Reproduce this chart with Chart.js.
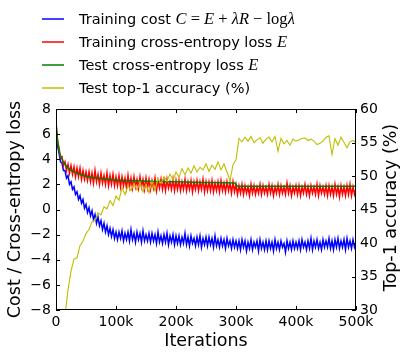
<!DOCTYPE html>
<html lang="en">
<head>
<meta charset="UTF-8">
<title>Training curves</title>
<script src="https://cdn.jsdelivr.net/npm/chart.js"></script>
<style>
  html, body { margin: 0; padding: 0; background: #fff; }
  .chart-wrap { position: relative; width: 407px; height: 358px; }
  .legend { position: absolute; left: 0; top: 0; width: 407px; font-family: "DejaVu Sans", sans-serif; font-size: 14.5px; color: #000; }
  .legend-row { position: absolute; left: 42px; height: 20px; white-space: nowrap; display: flex; align-items: center; }
  .legend-line { display: block; width: 22px; height: 2px; margin-right: 15px; opacity: 0.75; }
  .m { font-family: "Liberation Serif", serif; font-size: 16.5px; }
  .m i { font-style: italic; }
</style>
</head>
<body>
<div class="chart-wrap">
  <canvas id="lossChart" width="407" height="358"></canvas>
  <div class="legend">
    <div class="legend-row" style="top:9px"><span class="legend-line" style="background:#0000ff"></span>Training cost&nbsp;<span class="m"><i>C</i> = <i>E</i> + <i>λR</i> − log<i>λ</i></span></div>
    <div class="legend-row" style="top:32px"><span class="legend-line" style="background:#ff0000"></span>Training cross-entropy loss&nbsp;<span class="m"><i>E</i></span></div>
    <div class="legend-row" style="top:55px"><span class="legend-line" style="background:#008000"></span>Test cross-entropy loss&nbsp;<span class="m"><i>E</i></span></div>
    <div class="legend-row" style="top:78px"><span class="legend-line" style="background:#bfbf00"></span>Test top-1 accuracy (%)</div>
  </div>
</div>
<script>
// training curves logged every 2.5k iterations, test accuracy every 5k
const trainIters = Array.from({length: 201}, (_, i) => i * 2500);
const accIters = Array.from({length: 101}, (_, i) => i * 5000);

const trainCost = [
  6.5, 5.1, 4.5, 3.8, 3.7, 3.1, 3.1, 2.5, 2.7, 2.0, 2.2, 1.6, 1.8, 1.2, 1.4, 0.8, 1.1, 0.5, 0.8, 0.1, 0.4,
  -0.25, 0.15, -0.5, -0.1, -0.8, -0.4, -1.1, -0.6, -1.3, -0.9, -1.6, -1.1, -1.8, -1.3, -2.0, -1.5, -2.15, -1.6, -2.3, -1.8,
  -2.4, -1.8, -2.3, -1.7, -2.5, -1.9, -2.4, -1.8, -2.5, -1.6, -2.4, -1.9, -2.6, -1.8, -2.4, -1.9, -2.6, -1.7, -2.5, -2.0,
  -2.5, -1.9, -2.6, -1.9, -2.5, -2.0, -2.7, -1.8, -2.6, -2.1, -2.7, -2.0, -2.6, -1.9, -2.8, -2.1, -2.6, -2.0, -2.8, -2.1,
  -2.7, -2.1, -2.8, -2.2, -2.7, -1.9, -2.8, -2.2, -2.9, -2.1, -2.7, -2.3, -2.9, -2.2, -2.8, -2.1, -3.0, -2.3, -2.8, -2.2,
  -2.9, -2.2, -2.8, -2.3, -3.0, -2.1, -2.9, -2.4, -3.0, -2.3, -2.9, -2.4, -3.1, -2.3, -2.9, -2.5, -3.1, -2.4, -3.0, -2.5,
  -3.1, -2.5, -3.2, -2.4, -3.0, -2.5, -3.3, -2.6, -3.1, -2.4, -3.2, -2.6, -3.0, -2.5, -3.3, -2.4, -3.1, -2.6, -3.2, -2.5,
  -3.2, -2.5, -3.1, -2.6, -3.3, -2.4, -3.1, -2.6, -3.2, -2.5, -3.0, -2.7, -3.4, -2.5, -3.1, -2.6, -3.2, -2.5, -3.1, -2.6,
  -3.1, -2.5, -3.2, -2.4, -3.0, -2.6, -3.2, -2.5, -3.1, -2.3, -3.2, -2.5, -3.0, -2.4, -3.1, -2.6, -3.2, -2.4, -3.0, -2.5,
  -3.0, -2.3, -3.1, -2.5, -3.2, -2.4, -3.0, -2.3, -3.1, -2.5, -3.0, -2.4, -3.2, -2.3, -3.0, -2.5, -3.1, -2.4, -3.0, -2.6
];

const trainCE = [
  6.8, 5.5, 4.9, 4.1, 4.2, 3.5, 3.8, 3.1, 3.6, 2.9, 3.5, 2.8, 3.4, 2.6, 3.3, 2.6, 3.3, 2.4, 3.1, 2.4, 3.0,
  2.3, 3.0, 2.2, 2.9, 2.1, 3.1, 2.2, 2.8, 2.0, 2.9, 2.1, 2.7, 2.0, 2.9, 1.9, 2.7, 2.0, 2.8, 1.9, 2.6,
  1.9, 2.7, 1.8, 2.6, 1.9, 2.5, 1.7, 2.7, 1.8, 2.5, 1.7, 2.6, 1.8, 2.4, 1.7, 2.6, 1.8, 2.4, 1.6, 2.5,
  1.7, 2.4, 1.6, 2.3, 1.7, 2.5, 1.5, 2.3, 1.7, 2.4, 1.6, 2.3, 1.5, 2.4, 1.7, 2.2, 1.6, 2.4, 1.5, 2.3,
  1.6, 2.3, 1.5, 2.2, 1.6, 2.4, 1.5, 2.2, 1.6, 2.3, 1.4, 2.2, 1.6, 2.3, 1.5, 2.2, 1.6, 2.4, 1.4, 2.2,
  1.5, 2.2, 1.5, 2.3, 1.4, 2.1, 1.5, 2.2, 1.4, 2.3, 1.5, 2.1, 1.4, 2.2, 1.5, 2.1, 1.3, 2.2, 1.4, 2.0,
  1.2, 1.9, 1.3, 2.0, 1.2, 1.9, 1.3, 1.8, 1.1, 2.0, 1.3, 1.9, 1.2, 1.8, 1.3, 2.0, 1.2, 1.9, 1.3, 1.8,
  1.2, 2.0, 1.3, 1.9, 1.1, 1.8, 1.3, 2.0, 1.2, 1.9, 1.3, 1.8, 1.2, 2.1, 1.3, 1.9, 1.1, 1.8, 1.3, 1.9,
  1.2, 1.9, 1.1, 1.8, 1.3, 2.0, 1.2, 1.8, 1.1, 1.9, 1.3, 1.8, 1.2, 2.0, 1.1, 1.9, 1.3, 1.8, 1.2, 1.9,
  1.1, 1.9, 1.2, 1.8, 1.1, 2.0, 1.2, 1.8, 1.0, 1.9, 1.2, 1.8, 1.1, 1.9, 1.2, 2.0, 1.1, 1.8, 1.2, 1.7
];

const testIters = [0, 2000, 5000, 10000, 15000, 20000, 30000, 40000, 50000, 60000, 80000, 100000, 125000, 150000, 200000, 250000, 298000, 303000, 350000, 400000, 450000, 500000];
const testCE = [7.0, 5.8, 4.7, 4.0, 3.6, 3.3, 3.0, 2.8, 2.65, 2.55, 2.45, 2.35, 2.3, 2.25, 2.2, 2.15, 2.1, 1.85, 1.85, 1.85, 1.85, 1.85];

const testAcc = [
  15, 20, 24, 29.2, 33.0, 35.8, 37.6, 37.8, 39.6, 40.3, 41.4, 42.0, 43.2, 43.4, 44.5, 44.2, 45.4, 45.1, 46.3, 45.6, 47.0,
  46.4, 48.3, 47.2, 48.6, 47.8, 48.9, 47.9, 49.1, 47.6, 48.8, 47.5, 49.2, 47.8, 49.6, 48.9, 49.9, 49.2, 50.3, 49.4, 50.6,
  49.8, 51.1, 50.2, 51.2, 50.4, 51.5, 50.6, 51.3, 50.9, 51.8, 50.7, 51.6, 51.0, 52.1, 50.9, 51.8, 50.6, 49.3, 51.7, 52.4,
  55.6, 55.1, 55.8, 55.2, 55.9, 55.0, 55.4, 55.7, 54.9, 55.5, 55.8, 55.1, 55.9, 53.7, 55.6, 54.8, 55.3, 54.6, 55.5, 55.2,
  55.4, 55.6, 55.7, 55.3, 55.5, 55.2, 54.7, 54.9, 55.2, 55.8, 56.0, 53.2, 55.6, 54.6, 55.8, 55.0, 54.2, 55.1, 55.3, 55.0
];

const xTicks = [0, 100000, 200000, 300000, 400000, 500000];

function pts(xs, ys) { return xs.map((x, i) => ({x: x, y: ys[i]})); }

// matplotlib style: box frame with inward ticks, right label reads upward
const frameTicks = {
  id: 'frameTicks',
  afterDatasetsDraw(chart) {
    const {ctx, chartArea: a, scales} = chart;
    const len = 4;
    ctx.save();
    ctx.strokeStyle = '#000';
    ctx.lineWidth = 1;
    ctx.beginPath();
    scales.x.ticks.forEach(t => {
      const px = Math.round(scales.x.getPixelForValue(t.value)) + 0.5;
      ctx.moveTo(px, a.bottom); ctx.lineTo(px, a.bottom - len);
      ctx.moveTo(px, a.top); ctx.lineTo(px, a.top + len);
    });
    scales.y.ticks.forEach(t => {
      const py = Math.round(scales.y.getPixelForValue(t.value)) + 0.5;
      ctx.moveTo(a.left, py); ctx.lineTo(a.left + len, py);
    });
    scales.y2.ticks.forEach(t => {
      const py = Math.round(scales.y2.getPixelForValue(t.value)) + 0.5;
      ctx.moveTo(a.right, py); ctx.lineTo(a.right - len, py);
    });
    ctx.stroke();
    ctx.strokeRect(Math.round(a.left) + 0.5, Math.round(a.top) + 0.5, Math.round(a.right - a.left) - 1, Math.round(a.bottom - a.top) - 1);
    ctx.fillStyle = '#000';
    ctx.font = '17.5px "DejaVu Sans"';
    ctx.textAlign = 'center';
    ctx.textBaseline = 'middle';
    ctx.translate(391, (a.top + a.bottom) / 2 - 2);
    ctx.rotate(-Math.PI / 2);
    ctx.fillText('Top-1 accuracy (%)', 0, 0);
    ctx.restore();
  }
};

const tickFont = {family: 'DejaVu Sans', size: 14};
const titleFont = {family: 'DejaVu Sans', size: 17.5};

new Chart(document.getElementById('lossChart'), {
  type: 'line',
  data: {
    datasets: [
      {label: 'Test top-1 accuracy (%)', data: pts(accIters, testAcc), yAxisID: 'y2', borderColor: '#bfbf00', borderWidth: 1.1},
      {label: 'Test cross-entropy loss E', data: pts(testIters, testCE), yAxisID: 'y', borderColor: '#008000', borderWidth: 1.5, cubicInterpolationMode: 'monotone'},
      {label: 'Training cross-entropy loss E', data: pts(trainIters, trainCE), yAxisID: 'y', borderColor: '#ff0000', borderWidth: 1.5},
      {label: 'Training cost C', data: pts(trainIters, trainCost), yAxisID: 'y', borderColor: '#0000ff', borderWidth: 1.5}
    ]
  },
  options: {
    responsive: false,
    animation: false,
    elements: { point: { radius: 0 }, line: { tension: 0, fill: false } },
    layout: { padding: { top: 109, left: 0, right: 0, bottom: 0 } },
    plugins: { legend: { display: false }, tooltip: { enabled: false } },
    scales: {
      x: {
        type: 'linear', min: 0, max: 500000,
        afterBuildTicks: s => { s.ticks = xTicks.map(v => ({value: v})); },
        afterFit: s => { s.height = 48; },
        grid: { display: false, drawTicks: false },
        border: { display: false },
        ticks: { font: tickFont, color: '#000', padding: 4, maxRotation: 0,
          callback: v => v === 0 ? '0' : (v / 1000) + 'k' },
        title: { display: true, text: 'Iterations', font: titleFont, color: '#000', padding: { top: 0, bottom: 6 } }
      },
      y: {
        position: 'left', min: -8, max: 8,
        afterFit: s => { s.width = 56; },
        grid: { display: false, drawTicks: false },
        border: { display: false },
        ticks: { stepSize: 2, font: tickFont, color: '#000', padding: 5,
          callback: v => v < 0 ? '\u2212' + Math.abs(v) : String(v) },
        title: { display: true, text: 'Cost / Cross-entropy loss', font: titleFont, color: '#000', padding: { top: 5, bottom: 0 } }
      },
      y2: {
        position: 'right', min: 30, max: 60,
        afterFit: s => { s.width = 51; },
        grid: { display: false, drawTicks: false },
        border: { display: false },
        ticks: { stepSize: 5, font: tickFont, color: '#000', padding: 4 }
      }
    }
  },
  plugins: [frameTicks]
});
</script>
</body>
</html>
